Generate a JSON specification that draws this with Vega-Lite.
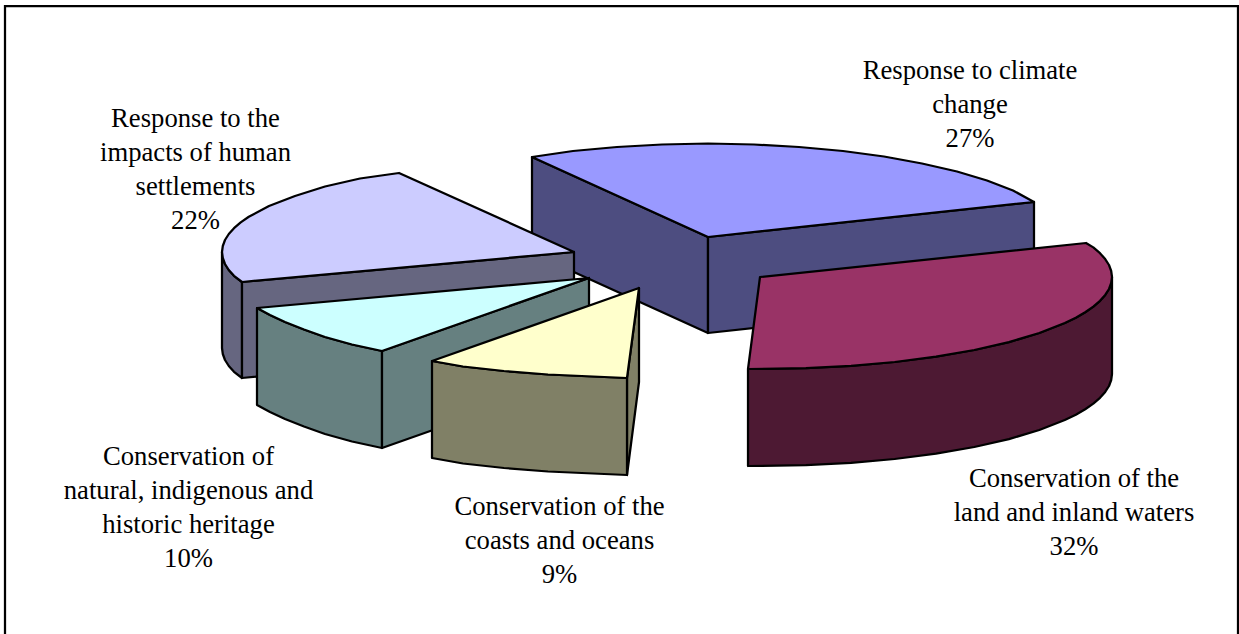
{
  "$schema": "https://vega.github.io/schema/vega-lite/v6.json",
  "width": 1239,
  "height": 634,
  "padding": 0,
  "autosize": {"type": "none"},
  "background": "white",
  "config": {"view": {"stroke": null}},
  "datasets": {
    "frame": [
      {"edge": "top", "i": 0, "x": 5, "y": 634},
      {"edge": "top", "i": 1, "x": 5, "y": 6},
      {"edge": "top", "i": 2, "x": 1238, "y": 6},
      {"edge": "top", "i": 3, "x": 1238, "y": 634}
    ],
    "faces": [
      {"face": "climate left wall", "tone": "climate side", "i": 0, "x": 532, "y": 157},
      {"face": "climate left wall", "tone": "climate side", "i": 1, "x": 708, "y": 237},
      {"face": "climate left wall", "tone": "climate side", "i": 2, "x": 708, "y": 333},
      {"face": "climate left wall", "tone": "climate side", "i": 3, "x": 532, "y": 253},
      {"face": "climate right wall", "tone": "climate side", "i": 0, "x": 708, "y": 237},
      {"face": "climate right wall", "tone": "climate side", "i": 1, "x": 1034, "y": 202},
      {"face": "climate right wall", "tone": "climate side", "i": 2, "x": 1034, "y": 298},
      {"face": "climate right wall", "tone": "climate side", "i": 3, "x": 708, "y": 333},
      {"face": "climate top", "tone": "climate top", "i": 0, "x": 708, "y": 237},
      {"face": "climate top", "tone": "climate top", "i": 1, "x": 532, "y": 157},
      {"face": "climate top", "tone": "climate top", "i": 2, "x": 573, "y": 151},
      {"face": "climate top", "tone": "climate top", "i": 3, "x": 617, "y": 147},
      {"face": "climate top", "tone": "climate top", "i": 4, "x": 662, "y": 144.5},
      {"face": "climate top", "tone": "climate top", "i": 5, "x": 708, "y": 143.5},
      {"face": "climate top", "tone": "climate top", "i": 6, "x": 754, "y": 144.5},
      {"face": "climate top", "tone": "climate top", "i": 7, "x": 799, "y": 147},
      {"face": "climate top", "tone": "climate top", "i": 8, "x": 843, "y": 151},
      {"face": "climate top", "tone": "climate top", "i": 9, "x": 884, "y": 156.5},
      {"face": "climate top", "tone": "climate top", "i": 10, "x": 922, "y": 163.5},
      {"face": "climate top", "tone": "climate top", "i": 11, "x": 957, "y": 171.5},
      {"face": "climate top", "tone": "climate top", "i": 12, "x": 987, "y": 180.5},
      {"face": "climate top", "tone": "climate top", "i": 13, "x": 1013, "y": 190.5},
      {"face": "climate top", "tone": "climate top", "i": 14, "x": 1034, "y": 202},

      {"face": "human left wall", "tone": "human side", "i": 0, "x": 222, "y": 252},
      {"face": "human left wall", "tone": "human side", "i": 1, "x": 222.8, "y": 258},
      {"face": "human left wall", "tone": "human side", "i": 2, "x": 225, "y": 264},
      {"face": "human left wall", "tone": "human side", "i": 3, "x": 228.8, "y": 270},
      {"face": "human left wall", "tone": "human side", "i": 4, "x": 234, "y": 275.8},
      {"face": "human left wall", "tone": "human side", "i": 5, "x": 242, "y": 282},
      {"face": "human left wall", "tone": "human side", "i": 6, "x": 242, "y": 378},
      {"face": "human left wall", "tone": "human side", "i": 7, "x": 234, "y": 371.8},
      {"face": "human left wall", "tone": "human side", "i": 8, "x": 228.8, "y": 366},
      {"face": "human left wall", "tone": "human side", "i": 9, "x": 225, "y": 360},
      {"face": "human left wall", "tone": "human side", "i": 10, "x": 222.8, "y": 354},
      {"face": "human left wall", "tone": "human side", "i": 11, "x": 222, "y": 348},
      {"face": "human right wall", "tone": "human side", "i": 0, "x": 242, "y": 282},
      {"face": "human right wall", "tone": "human side", "i": 1, "x": 574, "y": 252},
      {"face": "human right wall", "tone": "human side", "i": 2, "x": 574, "y": 279},
      {"face": "human right wall", "tone": "human side", "i": 3, "x": 560, "y": 348},
      {"face": "human right wall", "tone": "human side", "i": 4, "x": 242, "y": 378},
      {"face": "human top", "tone": "human top", "i": 0, "x": 574, "y": 252},
      {"face": "human top", "tone": "human top", "i": 1, "x": 399, "y": 173},
      {"face": "human top", "tone": "human top", "i": 2, "x": 360, "y": 178.5},
      {"face": "human top", "tone": "human top", "i": 3, "x": 325, "y": 186.5},
      {"face": "human top", "tone": "human top", "i": 4, "x": 295, "y": 196},
      {"face": "human top", "tone": "human top", "i": 5, "x": 269, "y": 206},
      {"face": "human top", "tone": "human top", "i": 6, "x": 248.8, "y": 216.8},
      {"face": "human top", "tone": "human top", "i": 7, "x": 240.7, "y": 222.4},
      {"face": "human top", "tone": "human top", "i": 8, "x": 234, "y": 228.2},
      {"face": "human top", "tone": "human top", "i": 9, "x": 228.8, "y": 234},
      {"face": "human top", "tone": "human top", "i": 10, "x": 225, "y": 240},
      {"face": "human top", "tone": "human top", "i": 11, "x": 222.8, "y": 246},
      {"face": "human top", "tone": "human top", "i": 12, "x": 222, "y": 252},
      {"face": "human top", "tone": "human top", "i": 13, "x": 222.8, "y": 258},
      {"face": "human top", "tone": "human top", "i": 14, "x": 225, "y": 264},
      {"face": "human top", "tone": "human top", "i": 15, "x": 228.8, "y": 270},
      {"face": "human top", "tone": "human top", "i": 16, "x": 234, "y": 275.8},
      {"face": "human top", "tone": "human top", "i": 17, "x": 242, "y": 282},

      {"face": "heritage front wall", "tone": "heritage side", "i": 0, "x": 257, "y": 308},
      {"face": "heritage front wall", "tone": "heritage side", "i": 1, "x": 270, "y": 315},
      {"face": "heritage front wall", "tone": "heritage side", "i": 2, "x": 285, "y": 322},
      {"face": "heritage front wall", "tone": "heritage side", "i": 3, "x": 304, "y": 329.5},
      {"face": "heritage front wall", "tone": "heritage side", "i": 4, "x": 325, "y": 337},
      {"face": "heritage front wall", "tone": "heritage side", "i": 5, "x": 352, "y": 344.5},
      {"face": "heritage front wall", "tone": "heritage side", "i": 6, "x": 382, "y": 351},
      {"face": "heritage front wall", "tone": "heritage side", "i": 7, "x": 382, "y": 448},
      {"face": "heritage front wall", "tone": "heritage side", "i": 8, "x": 352, "y": 441.5},
      {"face": "heritage front wall", "tone": "heritage side", "i": 9, "x": 325, "y": 434},
      {"face": "heritage front wall", "tone": "heritage side", "i": 10, "x": 304, "y": 426.5},
      {"face": "heritage front wall", "tone": "heritage side", "i": 11, "x": 285, "y": 419},
      {"face": "heritage front wall", "tone": "heritage side", "i": 12, "x": 270, "y": 412},
      {"face": "heritage front wall", "tone": "heritage side", "i": 13, "x": 257, "y": 405},
      {"face": "heritage right wall", "tone": "heritage side", "i": 0, "x": 382, "y": 351},
      {"face": "heritage right wall", "tone": "heritage side", "i": 1, "x": 589, "y": 278},
      {"face": "heritage right wall", "tone": "heritage side", "i": 2, "x": 589, "y": 375},
      {"face": "heritage right wall", "tone": "heritage side", "i": 3, "x": 382, "y": 448},
      {"face": "heritage top", "tone": "heritage top", "i": 0, "x": 589, "y": 278},
      {"face": "heritage top", "tone": "heritage top", "i": 1, "x": 257, "y": 308},
      {"face": "heritage top", "tone": "heritage top", "i": 2, "x": 270, "y": 315},
      {"face": "heritage top", "tone": "heritage top", "i": 3, "x": 285, "y": 322},
      {"face": "heritage top", "tone": "heritage top", "i": 4, "x": 304, "y": 329.5},
      {"face": "heritage top", "tone": "heritage top", "i": 5, "x": 325, "y": 337},
      {"face": "heritage top", "tone": "heritage top", "i": 6, "x": 352, "y": 344.5},
      {"face": "heritage top", "tone": "heritage top", "i": 7, "x": 382, "y": 351},

      {"face": "land wall", "tone": "land side", "i": 0, "x": 1112, "y": 277},
      {"face": "land wall", "tone": "land side", "i": 1, "x": 1111.2, "y": 283},
      {"face": "land wall", "tone": "land side", "i": 2, "x": 1109, "y": 289},
      {"face": "land wall", "tone": "land side", "i": 3, "x": 1105.2, "y": 294.9},
      {"face": "land wall", "tone": "land side", "i": 4, "x": 1100, "y": 300.8},
      {"face": "land wall", "tone": "land side", "i": 5, "x": 1093.3, "y": 306.6},
      {"face": "land wall", "tone": "land side", "i": 6, "x": 1085.2, "y": 312.2},
      {"face": "land wall", "tone": "land side", "i": 7, "x": 1075.8, "y": 317.7},
      {"face": "land wall", "tone": "land side", "i": 8, "x": 1064.8, "y": 323},
      {"face": "land wall", "tone": "land side", "i": 9, "x": 1039.3, "y": 333},
      {"face": "land wall", "tone": "land side", "i": 10, "x": 1008.9, "y": 342.1},
      {"face": "land wall", "tone": "land side", "i": 11, "x": 974.3, "y": 350},
      {"face": "land wall", "tone": "land side", "i": 12, "x": 936, "y": 356.7},
      {"face": "land wall", "tone": "land side", "i": 13, "x": 894.7, "y": 362},
      {"face": "land wall", "tone": "land side", "i": 14, "x": 851.1, "y": 365.9},
      {"face": "land wall", "tone": "land side", "i": 15, "x": 805.9, "y": 368.2},
      {"face": "land wall", "tone": "land side", "i": 16, "x": 748, "y": 369},
      {"face": "land wall", "tone": "land side", "i": 17, "x": 748, "y": 466},
      {"face": "land wall", "tone": "land side", "i": 18, "x": 805.9, "y": 465.2},
      {"face": "land wall", "tone": "land side", "i": 19, "x": 851.1, "y": 462.9},
      {"face": "land wall", "tone": "land side", "i": 20, "x": 894.7, "y": 459},
      {"face": "land wall", "tone": "land side", "i": 21, "x": 936, "y": 453.7},
      {"face": "land wall", "tone": "land side", "i": 22, "x": 974.3, "y": 447},
      {"face": "land wall", "tone": "land side", "i": 23, "x": 1008.9, "y": 439.1},
      {"face": "land wall", "tone": "land side", "i": 24, "x": 1039.3, "y": 430},
      {"face": "land wall", "tone": "land side", "i": 25, "x": 1064.8, "y": 420},
      {"face": "land wall", "tone": "land side", "i": 26, "x": 1075.8, "y": 414.7},
      {"face": "land wall", "tone": "land side", "i": 27, "x": 1085.2, "y": 409.2},
      {"face": "land wall", "tone": "land side", "i": 28, "x": 1093.3, "y": 403.6},
      {"face": "land wall", "tone": "land side", "i": 29, "x": 1100, "y": 397.8},
      {"face": "land wall", "tone": "land side", "i": 30, "x": 1105.2, "y": 391.9},
      {"face": "land wall", "tone": "land side", "i": 31, "x": 1109, "y": 386},
      {"face": "land wall", "tone": "land side", "i": 32, "x": 1111.2, "y": 380},
      {"face": "land wall", "tone": "land side", "i": 33, "x": 1112, "y": 374},
      {"face": "land top", "tone": "land top", "i": 0, "x": 760, "y": 277},
      {"face": "land top", "tone": "land top", "i": 1, "x": 1086, "y": 243},
      {"face": "land top", "tone": "land top", "i": 2, "x": 1093.3, "y": 247.4},
      {"face": "land top", "tone": "land top", "i": 3, "x": 1100, "y": 253.2},
      {"face": "land top", "tone": "land top", "i": 4, "x": 1105.2, "y": 259.1},
      {"face": "land top", "tone": "land top", "i": 5, "x": 1109, "y": 265},
      {"face": "land top", "tone": "land top", "i": 6, "x": 1111.2, "y": 271},
      {"face": "land top", "tone": "land top", "i": 7, "x": 1112, "y": 277},
      {"face": "land top", "tone": "land top", "i": 8, "x": 1111.2, "y": 283},
      {"face": "land top", "tone": "land top", "i": 9, "x": 1109, "y": 289},
      {"face": "land top", "tone": "land top", "i": 10, "x": 1105.2, "y": 294.9},
      {"face": "land top", "tone": "land top", "i": 11, "x": 1100, "y": 300.8},
      {"face": "land top", "tone": "land top", "i": 12, "x": 1093.3, "y": 306.6},
      {"face": "land top", "tone": "land top", "i": 13, "x": 1085.2, "y": 312.2},
      {"face": "land top", "tone": "land top", "i": 14, "x": 1075.8, "y": 317.7},
      {"face": "land top", "tone": "land top", "i": 15, "x": 1064.8, "y": 323},
      {"face": "land top", "tone": "land top", "i": 16, "x": 1039.3, "y": 333},
      {"face": "land top", "tone": "land top", "i": 17, "x": 1008.9, "y": 342.1},
      {"face": "land top", "tone": "land top", "i": 18, "x": 974.3, "y": 350},
      {"face": "land top", "tone": "land top", "i": 19, "x": 936, "y": 356.7},
      {"face": "land top", "tone": "land top", "i": 20, "x": 894.7, "y": 362},
      {"face": "land top", "tone": "land top", "i": 21, "x": 851.1, "y": 365.9},
      {"face": "land top", "tone": "land top", "i": 22, "x": 805.9, "y": 368.2},
      {"face": "land top", "tone": "land top", "i": 23, "x": 748, "y": 369},

      {"face": "coast right wall", "tone": "coast side", "i": 0, "x": 639, "y": 288},
      {"face": "coast right wall", "tone": "coast side", "i": 1, "x": 639, "y": 382},
      {"face": "coast right wall", "tone": "coast side", "i": 2, "x": 627, "y": 475},
      {"face": "coast right wall", "tone": "coast side", "i": 3, "x": 627, "y": 378},
      {"face": "coast front wall", "tone": "coast side", "i": 0, "x": 432, "y": 361},
      {"face": "coast front wall", "tone": "coast side", "i": 1, "x": 463, "y": 366.5},
      {"face": "coast front wall", "tone": "coast side", "i": 2, "x": 504, "y": 371},
      {"face": "coast front wall", "tone": "coast side", "i": 3, "x": 548, "y": 374.5},
      {"face": "coast front wall", "tone": "coast side", "i": 4, "x": 593, "y": 376.5},
      {"face": "coast front wall", "tone": "coast side", "i": 5, "x": 627, "y": 378},
      {"face": "coast front wall", "tone": "coast side", "i": 6, "x": 627, "y": 475},
      {"face": "coast front wall", "tone": "coast side", "i": 7, "x": 593, "y": 473.5},
      {"face": "coast front wall", "tone": "coast side", "i": 8, "x": 548, "y": 471.5},
      {"face": "coast front wall", "tone": "coast side", "i": 9, "x": 504, "y": 468},
      {"face": "coast front wall", "tone": "coast side", "i": 10, "x": 463, "y": 463.5},
      {"face": "coast front wall", "tone": "coast side", "i": 11, "x": 432, "y": 458},
      {"face": "coast top", "tone": "coast top", "i": 0, "x": 639, "y": 288},
      {"face": "coast top", "tone": "coast top", "i": 1, "x": 432, "y": 361},
      {"face": "coast top", "tone": "coast top", "i": 2, "x": 463, "y": 366.5},
      {"face": "coast top", "tone": "coast top", "i": 3, "x": 504, "y": 371},
      {"face": "coast top", "tone": "coast top", "i": 4, "x": 548, "y": 374.5},
      {"face": "coast top", "tone": "coast top", "i": 5, "x": 593, "y": 376.5},
      {"face": "coast top", "tone": "coast top", "i": 6, "x": 627, "y": 378}
    ],
    "labels": [
      {"text": ["Response to climate", "change", "27%"], "x": 970, "y": 58},
      {"text": ["Conservation of the", "land and inland waters", "32%"], "x": 1074, "y": 466},
      {"text": ["Conservation of the", "coasts and oceans", "9%"], "x": 559.5, "y": 494},
      {"text": ["Conservation of", "natural, indigenous and", "historic heritage", "10%"], "x": 188.5, "y": 444},
      {"text": ["Response to the", "impacts of human", "settlements", "22%"], "x": 195.5, "y": 106}
    ]
  },
  "layer": [
    {
      "data": {"name": "frame"},
      "mark": {"type": "line", "stroke": "black", "strokeWidth": 2.25, "clip": false},
      "encoding": {
        "x": {"field": "x", "type": "quantitative", "scale": {"domain": [0, 1239], "range": [0, 1239]}, "axis": null},
        "y": {"field": "y", "type": "quantitative", "scale": {"domain": [0, 634], "range": [0, 634]}, "axis": null},
        "order": {"field": "i", "type": "ordinal"},
        "detail": {"field": "edge"}
      }
    },
    {
      "data": {"name": "faces"},
      "mark": {"type": "line", "filled": true, "interpolate": "linear-closed", "stroke": "black", "strokeWidth": 2.25, "strokeJoin": "round"},
      "encoding": {
        "x": {"field": "x", "type": "quantitative", "scale": {"domain": [0, 1239], "range": [0, 1239]}, "axis": null},
        "y": {"field": "y", "type": "quantitative", "scale": {"domain": [0, 634], "range": [0, 634]}, "axis": null},
        "order": {"field": "i", "type": "ordinal"},
        "detail": {"field": "face"},
        "fill": {
          "field": "tone",
          "type": "nominal",
          "legend": null,
          "scale": {
            "domain": ["climate top", "climate side", "land top", "land side", "coast top", "coast side", "heritage top", "heritage side", "human top", "human side"],
            "range": ["#9999FF", "#4D4D80", "#993366", "#4D1933", "#FFFFCC", "#808066", "#CCFFFF", "#668080", "#CCCCFF", "#666680"]
          }
        }
      }
    },
    {
      "data": {"name": "labels"},
      "mark": {"type": "text", "font": "Liberation Serif", "fontSize": 26.67, "lineHeight": 34, "align": "center", "baseline": "top", "color": "black"},
      "encoding": {
        "x": {"field": "x", "type": "quantitative", "scale": {"domain": [0, 1239], "range": [0, 1239]}, "axis": null},
        "y": {"field": "y", "type": "quantitative", "scale": {"domain": [0, 634], "range": [0, 634]}, "axis": null},
        "text": {"field": "text"}
      }
    }
  ]
}
